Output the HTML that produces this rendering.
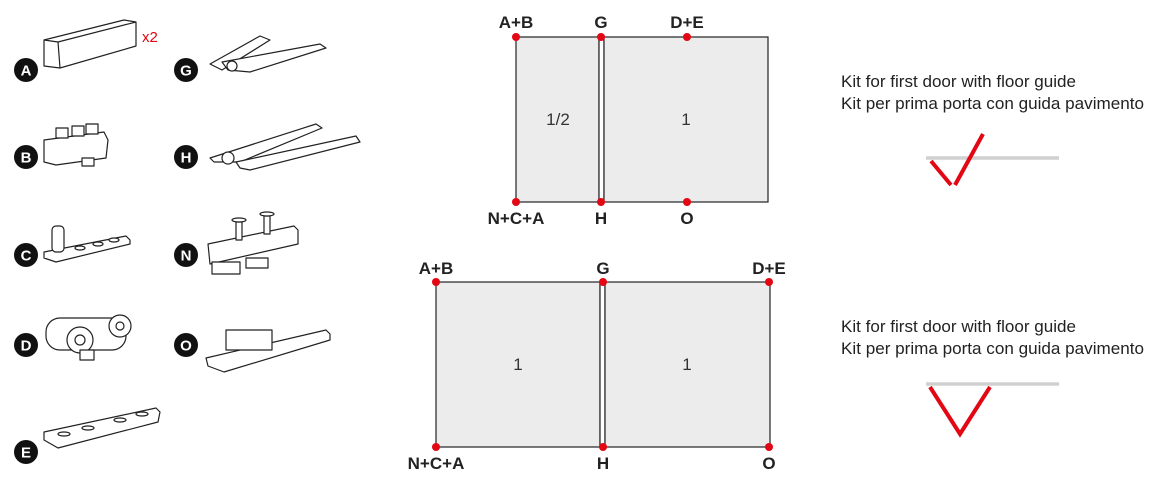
<!DOCTYPE html>
<html><head><meta charset="utf-8"><style>
html,body{margin:0;padding:0;background:#fff;width:1157px;height:479px;overflow:hidden}
svg{display:block}
text{font-family:"Liberation Sans",Arial,sans-serif}
</style></head><body>
<svg width="1157" height="479" viewBox="0 0 1157 479" xmlns="http://www.w3.org/2000/svg">
<g fill="#fff" stroke="#222" stroke-width="1.2" stroke-linejoin="round">
<polygon points="44,40 124,20 136,22 136,46 60,68 44,66"/>
<polyline points="44,40 58,42 136,22" fill="none"/>
<line x1="58" y1="42" x2="60" y2="68"/>
<polygon points="210,64 260,36 270,40 222,70"/>
<polygon points="222,62 320,44 326,48 250,72 228,70"/>
<circle cx="232" cy="66" r="5"/>
<polygon points="44,140 104,132 108,140 106,158 56,165 44,162"/>
<rect x="56" y="128" width="12" height="10"/><rect x="72" y="126" width="12" height="10"/><rect x="86" y="124" width="12" height="10"/>
<rect x="82" y="158" width="12" height="8"/>
<polygon points="210,158 316,124 322,128 240,162 214,162"/>
<polygon points="236,162 356,136 360,142 250,170 240,168"/>
<circle cx="228" cy="158" r="6"/>
<polygon points="44,252 126,236 130,240 130,244 56,262 44,258"/>
<rect x="52" y="226" width="12" height="26" rx="4"/>
<ellipse cx="80" cy="248" rx="5" ry="2"/><ellipse cx="98" cy="244" rx="5" ry="2"/><ellipse cx="114" cy="240" rx="5" ry="2"/>
<polygon points="208,244 294,226 298,230 298,244 210,264"/>
<rect x="212" y="262" width="28" height="12"/><rect x="246" y="258" width="22" height="10"/>
<rect x="236" y="222" width="6" height="18"/><rect x="264" y="216" width="6" height="18"/>
<ellipse cx="239" cy="220" rx="7" ry="2"/><ellipse cx="267" cy="214" rx="7" ry="2"/>
<rect x="46" y="318" width="80" height="32" rx="14"/>
<circle cx="80" cy="340" r="13"/><circle cx="80" cy="340" r="5"/>
<circle cx="120" cy="326" r="11"/><circle cx="120" cy="326" r="4"/>
<rect x="80" y="350" width="14" height="10"/>
<polygon points="206,358 326,330 330,334 330,340 224,372 208,366"/>
<rect x="226" y="330" width="46" height="20"/>
<polygon points="44,432 156,408 160,412 158,422 58,448 44,440"/>
<ellipse cx="64" cy="434" rx="6" ry="2"/><ellipse cx="88" cy="428" rx="6" ry="2"/><ellipse cx="120" cy="420" rx="6" ry="2"/><ellipse cx="142" cy="414" rx="6" ry="2"/>
</g>
<text x="142" y="42" font-size="15" fill="#e30613">x2</text>
<g font-size="15" font-weight="bold" fill="#fff" text-anchor="middle">
<circle cx="26" cy="70" r="12" fill="#111"/><text x="26" y="75.5">A</text>
<circle cx="26" cy="157" r="12" fill="#111"/><text x="26" y="162.5">B</text>
<circle cx="26" cy="255" r="12" fill="#111"/><text x="26" y="260.5">C</text>
<circle cx="26" cy="345" r="12" fill="#111"/><text x="26" y="350.5">D</text>
<circle cx="26" cy="452" r="12" fill="#111"/><text x="26" y="457.5">E</text>
<circle cx="186" cy="70" r="12" fill="#111"/><text x="186" y="75.5">G</text>
<circle cx="186" cy="157" r="12" fill="#111"/><text x="186" y="162.5">H</text>
<circle cx="186" cy="255" r="12" fill="#111"/><text x="186" y="260.5">N</text>
<circle cx="186" cy="345" r="12" fill="#111"/><text x="186" y="350.5">O</text>
</g>
<g fill="#ececec" stroke="#222" stroke-width="1.2">
<rect x="516" y="37" width="83" height="165"/>
<rect x="599" y="37" width="5" height="165" fill="#fff"/>
<rect x="604" y="37" width="164" height="165"/>
<rect x="436" y="282" width="164" height="165"/>
<rect x="600" y="282" width="5" height="165" fill="#fff"/>
<rect x="605" y="282" width="165" height="165"/>
</g>
<g fill="#e30613">
<circle cx="516" cy="37" r="4"/><circle cx="601" cy="37" r="4"/><circle cx="687" cy="37" r="4"/>
<circle cx="516" cy="202" r="4"/><circle cx="601" cy="202" r="4"/><circle cx="687" cy="202" r="4"/>
<circle cx="436" cy="282" r="4"/><circle cx="603" cy="282" r="4"/><circle cx="769" cy="282" r="4"/>
<circle cx="436" cy="447" r="4"/><circle cx="603" cy="447" r="4"/><circle cx="769" cy="447" r="4"/>
</g>
<g font-size="17" font-weight="bold" fill="#222" text-anchor="middle">
<text x="516" y="28">A+B</text><text x="601" y="28">G</text><text x="687" y="28">D+E</text>
<text x="516" y="224">N+C+A</text><text x="601" y="224">H</text><text x="687" y="224">O</text>
<text x="436" y="274">A+B</text><text x="603" y="274">G</text><text x="769" y="274">D+E</text>
<text x="436" y="469">N+C+A</text><text x="603" y="469">H</text><text x="769" y="469">O</text>
</g>
<g font-size="17" fill="#333" text-anchor="middle">
<text x="558" y="125">1/2</text><text x="686" y="125">1</text>
<text x="518" y="370">1</text><text x="687" y="370">1</text>
</g>
<g font-size="17" fill="#222">
<text x="841" y="87" textLength="235" lengthAdjust="spacingAndGlyphs">Kit for first door with floor guide</text>
<text x="841" y="109" textLength="303" lengthAdjust="spacingAndGlyphs">Kit per prima porta con guida pavimento</text>
<text x="841" y="332" textLength="235" lengthAdjust="spacingAndGlyphs">Kit for first door with floor guide</text>
<text x="841" y="354" textLength="303" lengthAdjust="spacingAndGlyphs">Kit per prima porta con guida pavimento</text>
</g>
<line x1="926" y1="158" x2="1059" y2="158" stroke="#d0d0d0" stroke-width="3.5"/>
<g stroke="#e30613" stroke-width="4" fill="none">
<line x1="931" y1="161" x2="951" y2="185"/>
<line x1="955" y1="185" x2="983" y2="134"/>
</g>
<line x1="926" y1="384" x2="1059" y2="384" stroke="#d0d0d0" stroke-width="3.5"/>
<polyline points="930,387 960,434 990,387" stroke="#e30613" stroke-width="4" fill="none"/>
</svg>
</body></html>
